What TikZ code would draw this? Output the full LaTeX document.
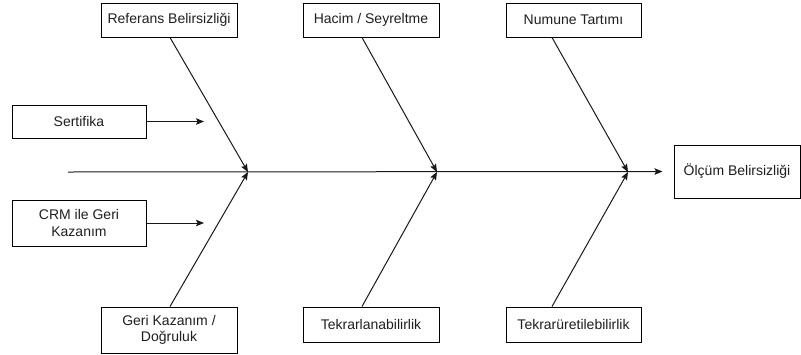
\documentclass[tikz,border=0pt]{standalone}
\usepackage{fontspec}
\setmainfont{Liberation Sans}
\usetikzlibrary{arrows.meta}
\begin{document}
\begin{tikzpicture}[x=1pt,y=-1pt,
  box/.style={draw=black,line width=1pt,fill=white,inner sep=2pt,font=\fontsize{14}{16.5}\selectfont,align=center,text=black!88},
  conn/.style={draw=black!90,line width=1pt,-{Stealth[length=8pt,width=6.5pt,inset=1.5pt]}}]
\useasboundingbox (0,0) rectangle (801,354);
\node[box,minimum width=136pt,minimum height=34pt] (ref) at (169,20) {Referans Belirsizliği};
\node[box,minimum width=136pt,minimum height=34pt] (hac) at (371,20) {Hacim / Seyreltme};
\node[box,minimum width=135pt,minimum height=34pt] (num) at (573.5,20) {Numune Tartımı};
\node[box,minimum width=134pt,minimum height=33pt] (ser) at (79,121.5) {Sertifika};
\node[box,minimum width=134pt,minimum height=46pt] (crm) at (79,223) {CRM ile Geri\\Kazanım};
\node[box,minimum width=136pt,minimum height=46pt] (ger) at (169,330) {Geri Kazanım /\\Doğruluk};
\node[box,minimum width=136pt,minimum height=35pt] (tk1) at (371,324.5) {Tekrarlanabilirlik};
\node[box,minimum width=135pt,minimum height=35pt] (tk2) at (573.5,324.5) {Tekrarüretilebilirlik};
\node[box,minimum width=126pt,minimum height=53pt] (ol) at (737,171.5) {Ölçüm Belirsizliği};
\coordinate (s0) at (68,172);
\coordinate (j1) at (248,172);
\coordinate (j2) at (437,172);
\coordinate (j3) at (628,172);
\coordinate (a1) at (204,121.5);
\coordinate (a2) at (204,223);
\draw[conn,shorten >=11pt] (s0) -- (ol.west);
\draw[conn] (ref.south) ++(1,0) -- (j1);
\draw[conn] (hac.south) ++(-9,0) -- (j2);
\draw[conn] (num.south) ++(-21.5,0) -- (j3);
\draw[conn] (ger.north) ++(1,0) -- (j1);
\draw[conn] (tk1.north) ++(-9,0) -- (j2);
\draw[conn] (tk2.north) ++(-21.5,0) -- (j3);
\draw[conn] (ser.east) -- (a1);
\draw[conn] (crm.east) -- (a2);
\end{tikzpicture}
\end{document}
